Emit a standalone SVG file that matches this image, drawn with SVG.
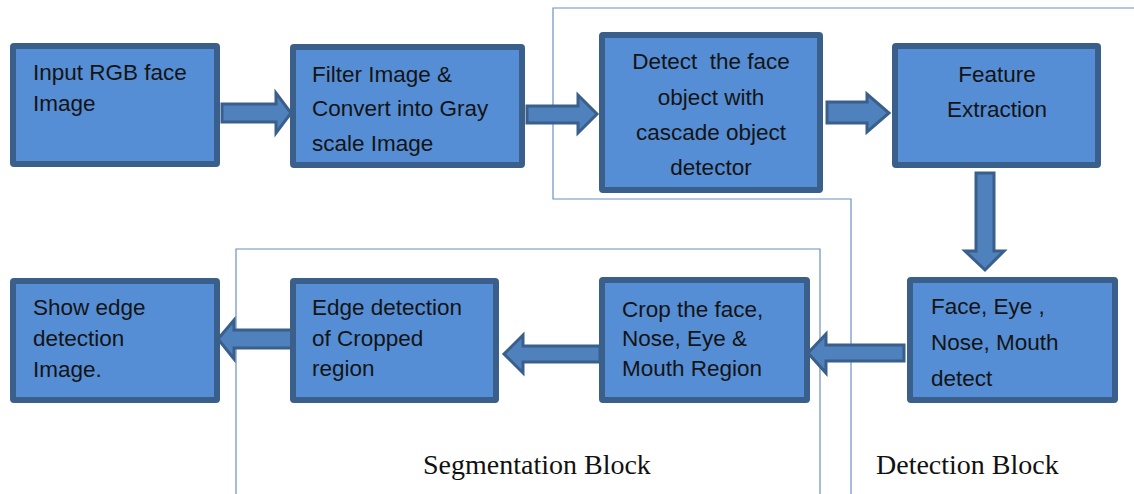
<svg xmlns="http://www.w3.org/2000/svg" width="1134" height="494" viewBox="0 0 1134 494">
  <style>
    .box { fill: #558ed5; stroke: #3a5f8b; stroke-width: 6; }
    .arrow { fill: #4f81bd; stroke: #3a5f8b; stroke-width: 3; stroke-linejoin: miter; }
    .frame { fill: none; stroke: #6a90c6; stroke-width: 1.2; }
    .lbl { font-family: "Liberation Sans", Arial, sans-serif; font-size: 22.5px; fill: #141414; }
    .mid { text-anchor: middle; }
    .blk { font-family: "Liberation Serif", "Times New Roman", serif; font-size: 28px; fill: #111; }
  </style>
  <rect width="1134" height="494" fill="#ffffff"/>

  <!-- block frames -->
  <g id="frames">
    <polyline class="frame" points="1134,8 553,8 553,199 851,199 851,494"/>
    <polyline class="frame" points="236,494 236,249 820,249 820,494"/>
  </g>

  <!-- connectors -->
  <g id="connectors">
    <polygon class="arrow" points="222,104 276,104 276,93 291,113 276,133 276,122 222,122"/>
    <polygon class="arrow" points="527,106 578,106 578,95 597,114 578,133 578,123 527,123"/>
    <polygon class="arrow" points="827,102 867,102 867,94 889,113 867,132 867,123 827,123"/>
    <polygon class="arrow" points="976,173 994,173 994,251 1004,251 985,270 965,251 976,251"/>
    <polygon class="arrow" points="904,345 826,345 826,334 808,353 826,373 826,361 904,361"/>
    <polygon class="arrow" points="600,346 523,346 523,335 504,354 523,373 523,362 600,362"/>
    <polygon class="arrow" points="294,330 234,330 234,320 218,339 234,359 234,348 294,348"/>
  </g>

  <g id="node-input">
    <rect class="box" x="13" y="46" width="204" height="118" rx="1"/>
    <text class="lbl" x="33" y="80">Input RGB face</text>
    <text class="lbl" x="33" y="111">Image</text>
  </g>

  <g id="node-filter">
    <rect class="box" x="293" y="47" width="229" height="118" rx="1"/>
    <text class="lbl" x="312" y="82">Filter Image &amp;</text>
    <text class="lbl" x="312" y="116">Convert into Gray</text>
    <text class="lbl" x="312" y="151">scale Image</text>
  </g>

  <g id="node-detect">
    <rect class="box" x="602" y="35" width="218" height="155" rx="1"/>
    <text class="lbl mid" x="711" y="69" xml:space="preserve">Detect  the face</text>
    <text class="lbl mid" x="711" y="105">object with</text>
    <text class="lbl mid" x="711" y="140">cascade object</text>
    <text class="lbl mid" x="711" y="175">detector</text>
  </g>

  <g id="node-feature">
    <rect class="box" x="895" y="46" width="203" height="119" rx="1"/>
    <text class="lbl mid" x="997" y="82">Feature</text>
    <text class="lbl mid" x="997" y="117">Extraction</text>
  </g>

  <g id="node-parts">
    <rect class="box" x="910" y="280" width="205" height="120" rx="1"/>
    <text class="lbl" x="931" y="314">Face, Eye ,</text>
    <text class="lbl" x="931" y="350">Nose, Mouth</text>
    <text class="lbl" x="931" y="386">detect</text>
  </g>

  <g id="node-crop">
    <rect class="box" x="602" y="280" width="205" height="120" rx="1"/>
    <text class="lbl" x="622" y="317">Crop the face,</text>
    <text class="lbl" x="622" y="346">Nose, Eye &amp;</text>
    <text class="lbl" x="622" y="376">Mouth Region</text>
  </g>

  <g id="node-edge">
    <rect class="box" x="293" y="281" width="203" height="119" rx="1"/>
    <text class="lbl" x="312" y="315">Edge detection</text>
    <text class="lbl" x="312" y="346">of Cropped</text>
    <text class="lbl" x="312" y="376">region</text>
  </g>

  <g id="node-show">
    <rect class="box" x="13" y="281" width="204" height="119" rx="1"/>
    <text class="lbl" x="33" y="315">Show edge</text>
    <text class="lbl" x="33" y="346">detection</text>
    <text class="lbl" x="33" y="377">Image.</text>
  </g>

  <g id="labels">
    <text class="blk" x="423" y="474">Segmentation Block</text>
    <text class="blk" x="876" y="474">Detection Block</text>
  </g>
</svg>
